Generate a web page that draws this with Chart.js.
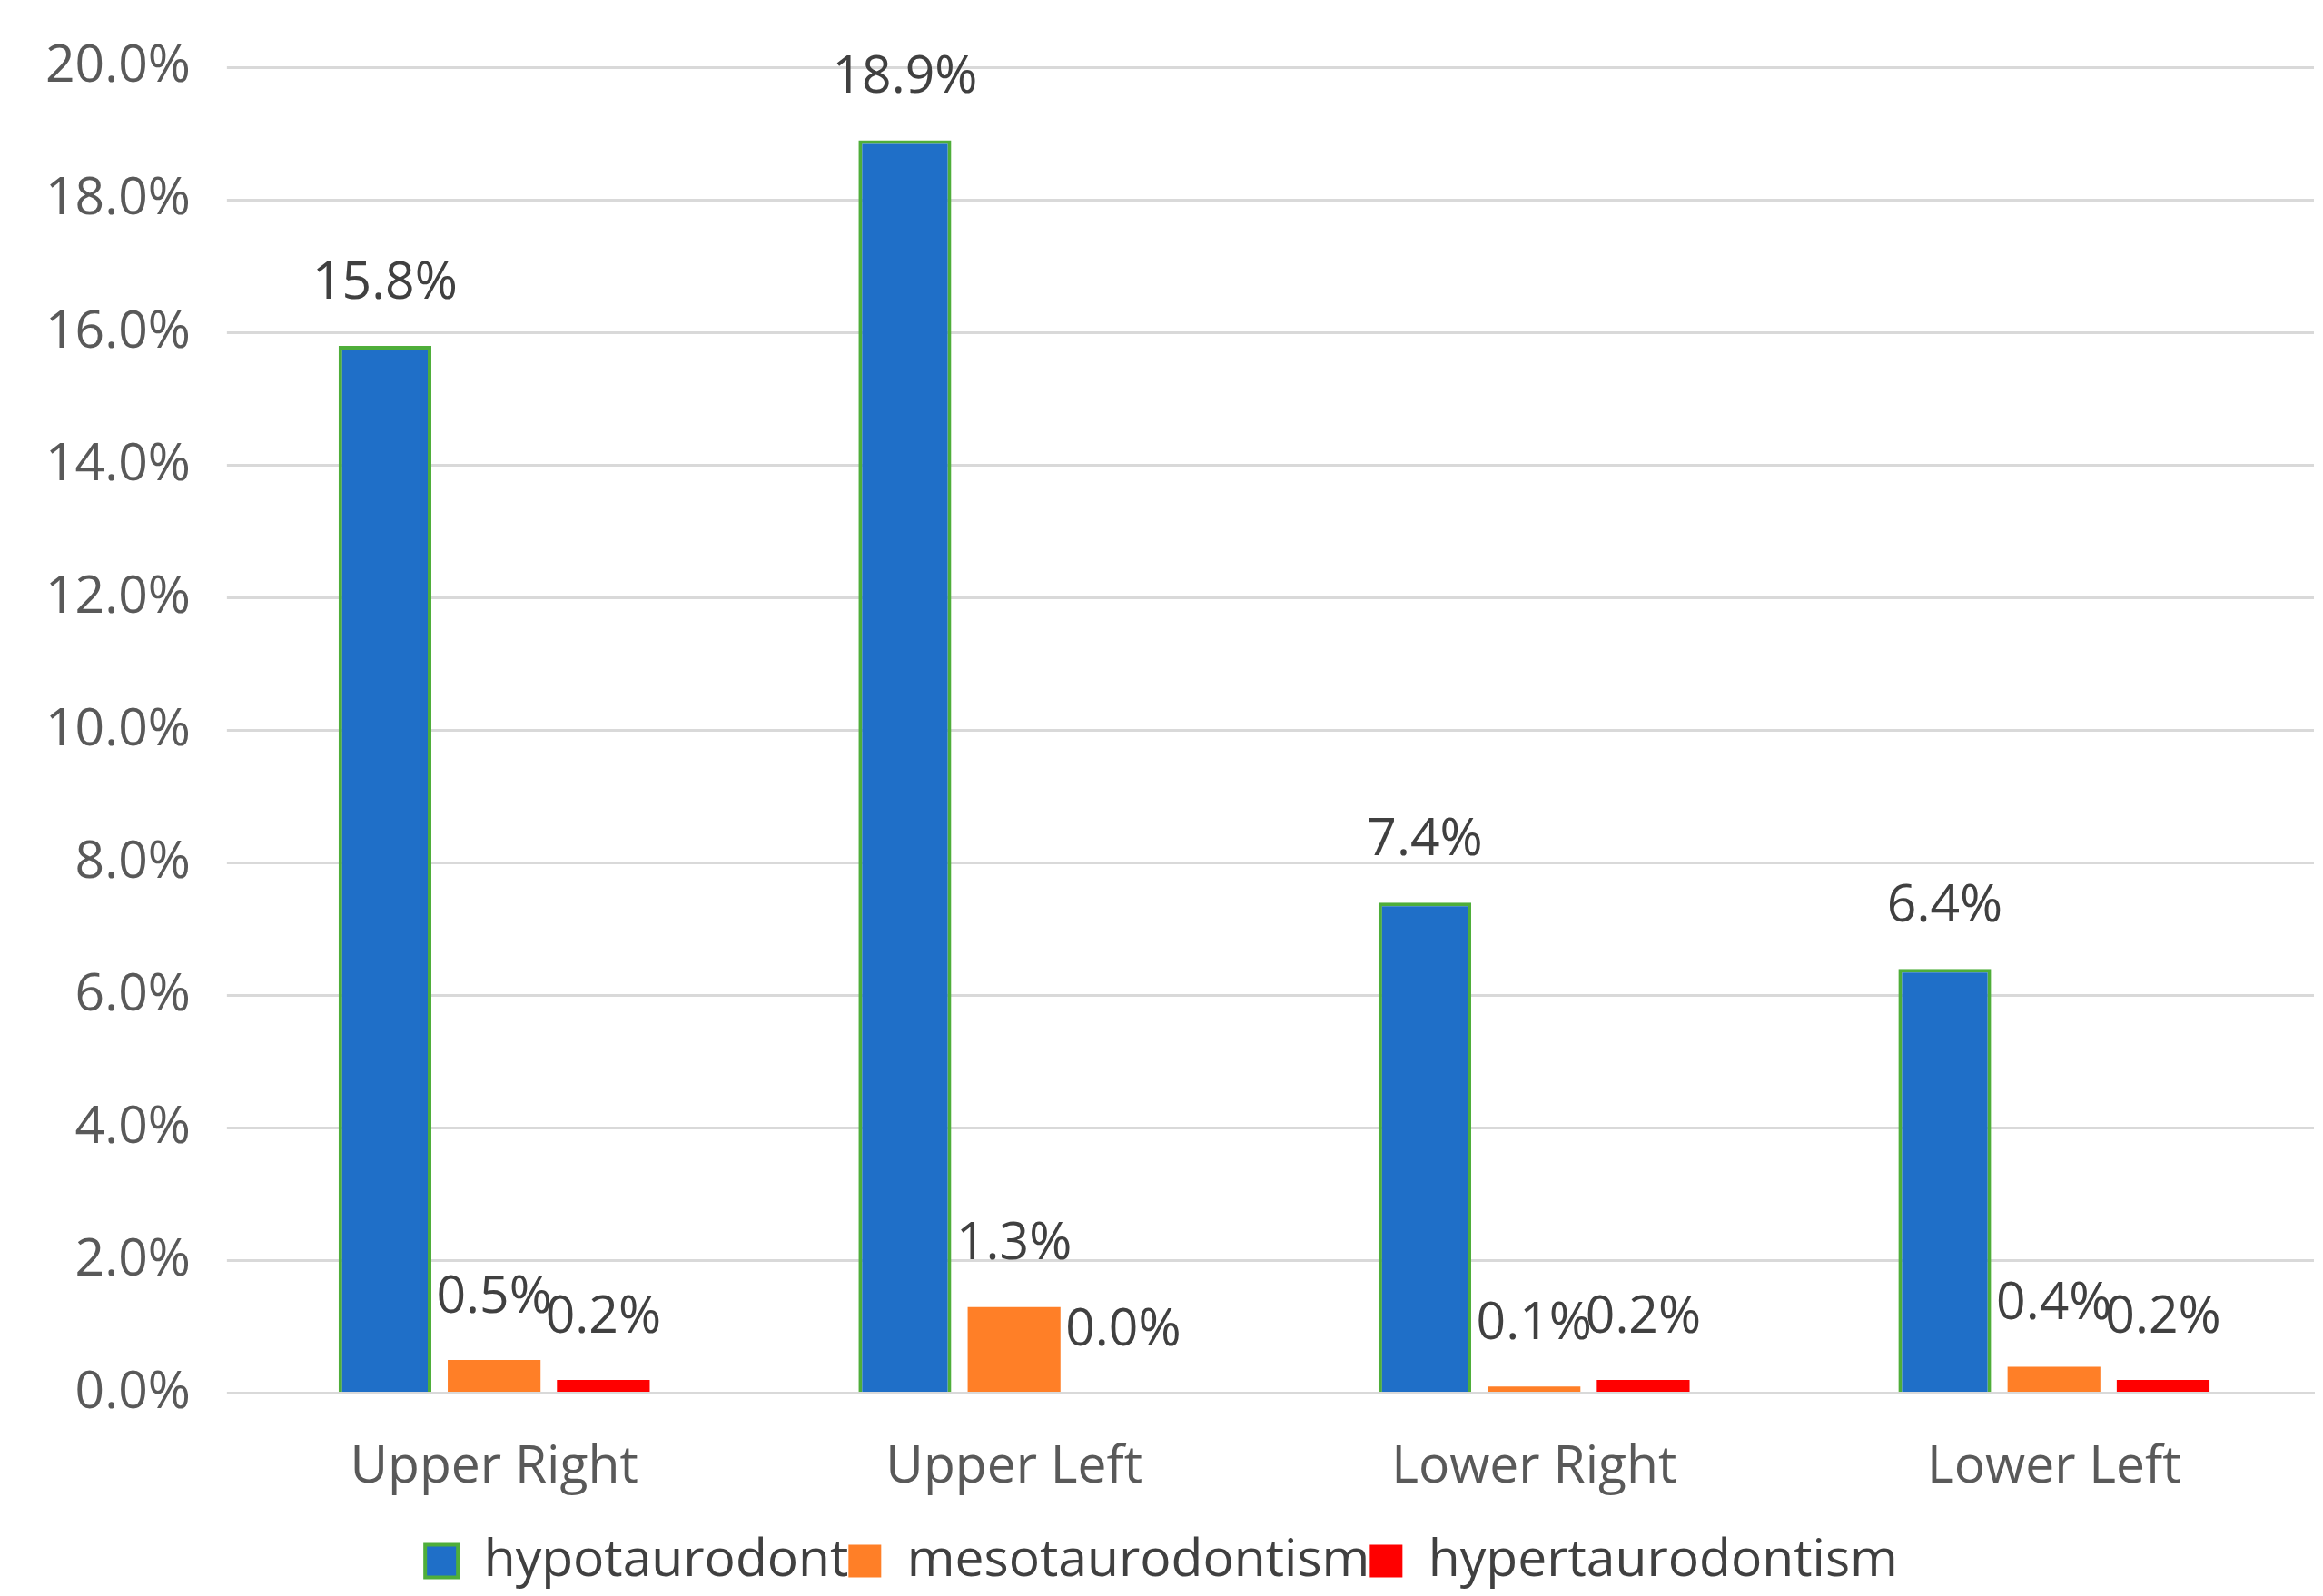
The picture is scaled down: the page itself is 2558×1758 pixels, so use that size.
<!DOCTYPE html>
<html>
<head>
<meta charset="utf-8">
<script src="https://cdn.jsdelivr.net/npm/chart.js@4"></script>
<style>
  html, body { margin: 0; padding: 0; background: #fff; }
  #wrap { width: 2558px; height: 1758px; }
</style>
</head>
<body>
<div id="wrap"><canvas id="chart"></canvas></div>
<script>
const categories = ['Upper Right', 'Upper Left', 'Lower Right', 'Lower Left'];
const hypotaurodont = [15.8, 18.9, 7.4, 6.4];
const mesotaurodontism = [0.5, 1.3, 0.1, 0.4];
const hypertaurodontism = [0.2, 0.0, 0.2, 0.2];

const font = { family: 'Open Sans, Calibri, sans-serif', size: 57 };

// value labels above each bar
const valueLabels = {
  id: 'valueLabels',
  afterDatasetsDraw(chart) {
    const ctx = chart.ctx;
    ctx.save();
    ctx.font = `${font.size}px ${font.family}`;
    ctx.fillStyle = '#404040';
    ctx.textAlign = 'center';
    ctx.textBaseline = 'bottom';
    chart.data.datasets.forEach((ds, i) => {
      chart.getDatasetMeta(i).data.forEach((bar, j) => {
        ctx.fillText(ds.data[j].toFixed(1) + '%', bar.x, bar.y - 40);
      });
    });
    ctx.restore();
  }
};

new Chart(document.getElementById('chart'), {
  type: 'bar',
  data: {
    labels: categories,
    datasets: [
      { label: 'hypotaurodont', data: hypotaurodont, backgroundColor: '#1f6fc8', borderColor: '#4fae3a', borderWidth: 4 },
      { label: 'mesotaurodontism', data: mesotaurodontism, backgroundColor: '#ff7f27', borderWidth: 0 },
      { label: 'hypertaurodontism', data: hypertaurodontism, backgroundColor: '#ff0000', borderWidth: 0 }
    ]
  },
  options: {
    responsive: true,
    maintainAspectRatio: false,
    animation: false,
    devicePixelRatio: 1,
    layout: { padding: { top: 25, right: 10, left: 10, bottom: 0 } },
    datasets: { bar: { categoryPercentage: 0.63, barPercentage: 0.85 } },
    plugins: {
      tooltip: { enabled: false },
      legend: {
        position: 'bottom',
        labels: { font: font, color: '#404040', boxWidth: 36, boxHeight: 36, padding: 0 }
      }
    },
    scales: {
      x: {
        grid: { display: false },
        border: { color: '#d9d9d9', width: 3 },
        ticks: { font: font, color: '#595959', padding: 40 }
      },
      y: {
        min: 0,
        max: 20,
        ticks: { stepSize: 2, font: font, color: '#595959', padding: 40, callback: v => v.toFixed(1) + '%' },
        grid: { color: '#d9d9d9', lineWidth: 3 },
        border: { display: false }
      }
    }
  },
  plugins: [valueLabels]
});
</script>
</body>
</html>
